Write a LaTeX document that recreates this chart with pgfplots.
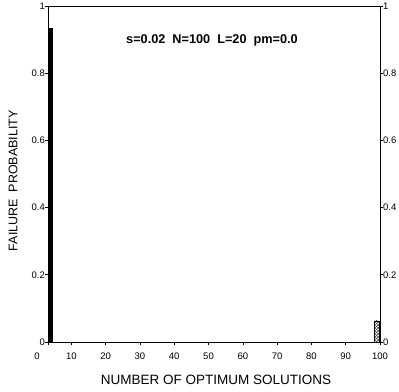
\documentclass[border=0pt]{standalone}
\usepackage{pgfplots}
\pgfplotsset{compat=1.18}
\usepackage{fontspec}
\setmainfont{Liberation Sans}
\usetikzlibrary{patterns}
\begin{document}
\begin{tikzpicture}
\useasboundingbox (0,0) rectangle (399pt,391pt);
\begin{axis}[
  at={(48pt,49pt)}, anchor=south west,
  scale only axis, width=332pt, height=336pt,
  xmin=3.2, xmax=100, ymin=0, ymax=1,
  xtick={10,20,...,100},
  extra x ticks={3.2}, extra x tick labels={0},
  extra x tick style={xticklabel style={xshift=-11pt}},
  ytick={0,0.2,0.4,0.6,0.8,1},
  yticklabels={0,0.2,0.4,0.6,0.8,1},
  xtick pos=bottom, ytick pos=left,
  tick align=outside, major tick length=3pt,
  /pgf/number format/assume math mode=true,
  tick label style={font=\fontsize{9.5}{11}\selectfont},
  xticklabel style={yshift=-4pt},
  yticklabel style={xshift=1pt, inner sep=1pt},
  xlabel={NUMBER OF OPTIMUM SOLUTIONS},
  xlabel style={at={(axis description cs:0.506,0)}, anchor=center, yshift=-38pt, font=\fontsize{13.5}{15}\selectfont},
  ylabel={FAILURE\ \ PROBABILITY},
  ylabel style={at={(axis description cs:0,0.48)}, anchor=center, yshift=35pt, font=\fontsize{12.5}{14}\selectfont},
  axis line style={line width=0.8pt},
  every tick/.style={line width=0.6pt, black},
]
\addplot[draw=black, fill=black] coordinates {(3.2,0) (4.4,0) (4.4,0.935) (3.2,0.935)} -- cycle;
\addplot[draw=black, pattern=crosshatch, pattern color=black!70] coordinates {(98.3,0) (99.7,0) (99.7,0.0625) (98.3,0.0625)} -- cycle;
\node[font=\bfseries\fontsize{12.7}{14}\selectfont] at (rel axis cs:0.494,0.899) {s=0.02\ \ N=100\ \ L=20\ \ pm=0.0};
\end{axis}
\begin{axis}[
  at={(48pt,49pt)}, anchor=south west,
  scale only axis, width=332pt, height=336pt,
  xmin=3.2, xmax=100, ymin=0, ymax=1,
  axis x line=none, axis y line*=right,
  ytick={0,0.2,0.4,0.6,0.8,1},
  yticklabels={0,0.2,0.4,0.6,0.8,1},
  tick align=outside, major tick length=3pt,
  /pgf/number format/assume math mode=true,
  tick label style={font=\fontsize{9.5}{11}\selectfont},
  yticklabel style={xshift=-1pt, inner sep=1pt},
  axis line style={line width=0.8pt},
  every tick/.style={line width=0.6pt, black},
]
\end{axis}
\end{tikzpicture}
\end{document}
